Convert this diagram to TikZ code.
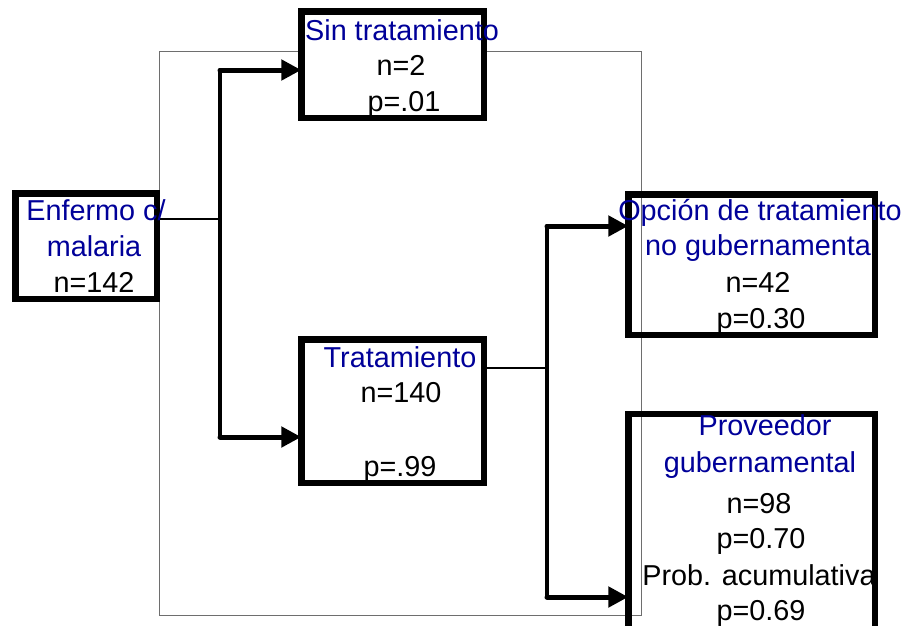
\documentclass[tikz,border=0pt]{standalone}
\usepackage{fontspec}
\setmainfont{Liberation Sans}
\usetikzlibrary{arrows.meta}
\definecolor{navy}{RGB}{0,0,153}
\definecolor{framegrey}{RGB}{110,110,110}
\tikzset{
  box/.style={draw=black, line width=6.5pt, rectangle, inner sep=0pt, outer sep=0pt},
  thinframe/.style={draw=framegrey, line width=1pt},
  title/.style={text=navy, anchor=base, inner sep=0pt, font=\fontsize{28.8}{34}\selectfont},
  value/.style={text=black, anchor=base, inner sep=0pt, font=\fontsize{28.8}{34}\selectfont},
  link/.style={draw=black, line width=2.2pt},
  trunk/.style={draw=black, line width=3.5pt},
  arr/.style={draw=black, line width=5pt, line cap=round, -{Triangle[length=20pt,width=20pt]}}
}
\begin{document}
\begin{tikzpicture}[x=1pt,y=-1pt]
\useasboundingbox (0,0) rectangle (907,625);
\clip (0,0) rectangle (907,625);
% outer thin frame
\draw[thinframe] (159.5,51) rectangle (641.5,615);
% boxes
\node[box, fill=white, minimum width=182.5pt, minimum height=106.5pt] (sin) at (392.5,64.5) {};
\node[box, minimum width=141.5pt, minimum height=105.5pt] (enf) at (86,246) {};
\node[box, minimum width=182.5pt, minimum height=143.5pt] (trat) at (392.5,411) {};
\node[box, minimum width=246.5pt, minimum height=140.5pt] (opc) at (751.5,264.5) {};
\node[box, minimum width=246.5pt, minimum height=226pt] (prov) at (751.5,527) {};
% junction coordinates
\coordinate (j1) at (220,219);
\coordinate (j1top) at (220,70);
\coordinate (j1bot) at (220,437);
\coordinate (j2) at (547,368);
\coordinate (j2top) at (547,226);
\coordinate (j2bot) at (547,597);
% connectors
\draw[link] (enf.east |- j1) -- (j1);
\draw[trunk] (j1top) -- (j1bot);
\draw[arr] (j1top) -- (j1top -| sin.west);
\draw[arr] (j1bot) -- (j1bot -| trat.west);
\draw[link] (trat.east |- j2) -- (j2);
\draw[trunk] (j2top) -- (j2bot);
\draw[arr] (j2top) -- (j2top -| opc.west);
\draw[arr] (j2bot) -- (j2bot -| prov.west);
% texts
\node[title] (t1) at (402,40) {Sin tratamiento};
\node[value] (t2) at (401,75) {n=2};
\node[value] (t3) at (404,111) {p=.01};
\node[title] (t4) at (96,220) {Enfermo c/};
\node[title] (t5) at (94,256) {malaria};
\node[value] (t6) at (94,292) {n=142};
\node[title] (t7) at (400,367) {Tratamiento};
\node[value] (t8) at (401,402) {n=140};
\node[value] (t9) at (400,476) {p=.99};
\node[title] (t10) at (760,220) {Opción de tratamiento};
\node[title] (t11) at (758,255) {no gubernamenta};
\node[value] (t12) at (758,292) {n=42};
\node[value] (t13) at (761,328) {p=0.30};
\node[title] (t14) at (765,435) {Proveedor};
\node[title] (t15) at (760,472) {gubernamental};
\node[value] (t16) at (759,513) {n=98};
\node[value] (t17) at (761,548) {p=0.70};
\node[value] (t18) at (759,585) {Prob. acumulativa};
\node[value] (t19) at (761,620) {p=0.69};
\end{tikzpicture}
\end{document}
